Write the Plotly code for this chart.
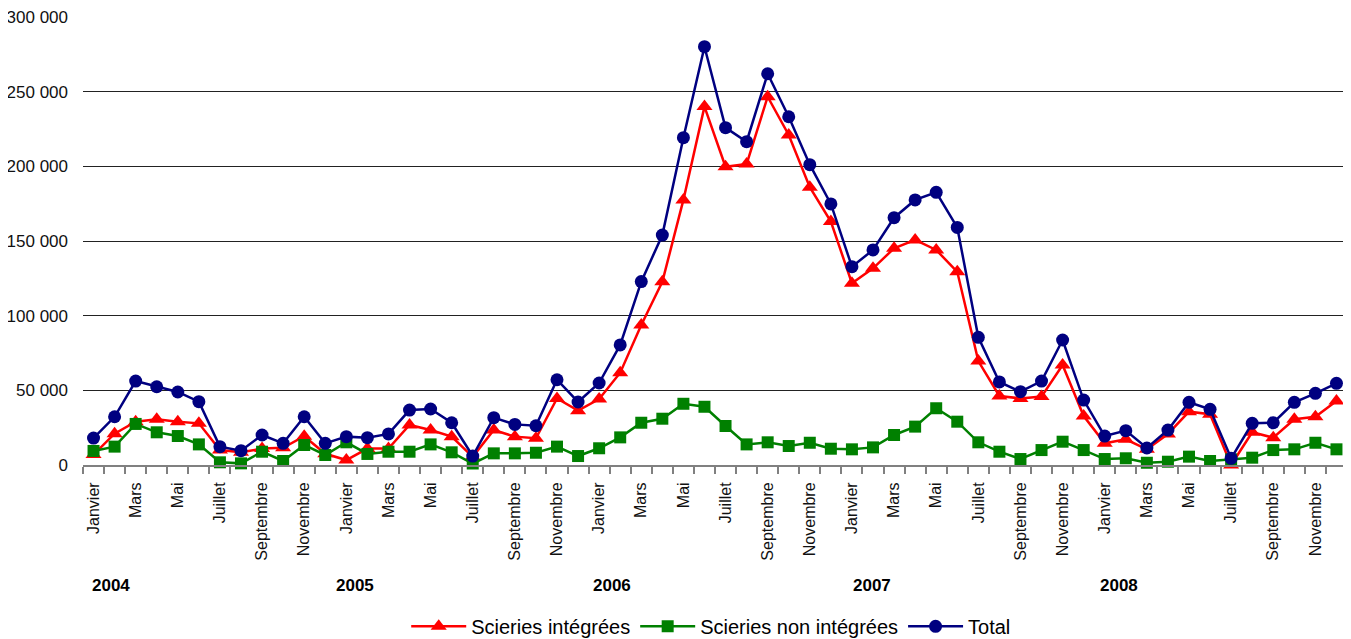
import plotly.graph_objects as go

months = ["Janvier", "Février", "Mars", "Avril", "Mai", "Juin", "Juillet",
          "Août", "Septembre", "Octobre", "Novembre", "Décembre"]
years = ["2004", "2005", "2006", "2007", "2008"]

integrees = [7000, 21000, 29000, 30600, 29000, 27900, 10000, 8500, 11000, 11500, 19300, 7500,
             3300, 11000, 11000, 26800, 23400, 19000, 5500, 23400, 19000, 17900, 44600, 36400,
             44200, 61800, 93700, 122700, 177500, 240000, 199700, 201500, 246600, 221000, 186000, 163000,
             121700, 131700, 145100, 150700, 144000, 129400, 69600, 46200, 44600, 45800, 67000, 32800,
             14500, 17200, 10500, 20800, 35700, 34000, 0, 21900, 18300, 30600, 32300, 42900]

non_integrees = [9400, 12300, 27500, 21900, 19400, 13800, 1800, 1100, 8900, 2700, 13400, 6700,
                 15200, 7400, 8900, 8900, 13800, 8500, 1000, 7800, 7800, 8200, 12300, 6000,
                 11200, 18500, 28300, 31000, 41000, 39000, 26100, 13800, 15200, 12700, 14900, 10900,
                 10500, 11800, 20100, 25700, 38000, 29000, 15200, 8900, 4000, 10000, 15600, 10000,
                 4000, 4500, 1500, 2200, 5600, 2700, 3800, 4900, 10000, 10500, 14900, 10500]

total = [18000, 32300, 56200, 52400, 48900, 42400, 12300, 9600, 20100, 14500, 32300, 14500,
         19000, 18300, 20800, 36800, 37500, 28300, 6000, 31700, 27200, 26300, 57100, 42200,
         54900, 80400, 122800, 154000, 219200, 280100, 225900, 216500, 262000, 233200, 201100, 174800,
         132800, 144000, 165600, 177500, 182600, 159100, 85500, 55600, 49100, 56200, 83700, 43500,
         19400, 23000, 11400, 23400, 42000, 37300, 4500, 27900, 28300, 42000, 48000, 54700]

y_ticks = [0, 50000, 100000, 150000, 200000, 250000, 300000]

n = len(total)
x = list(range(n))
tickvals = [i for i in x if i % 2 == 0]
ticktext = [months[i % 12] for i in tickvals]
year_pos = [0.85, 12.43, 24.6, 36.95, 48.67]

FONT = "Liberation Sans, Arial, sans-serif"

fig = go.Figure()
fig.add_trace(go.Scatter(
    x=x, y=integrees, name="Scieries intégrées", mode="lines+markers",
    line=dict(color="#FF0000", width=2.5),
    marker=dict(symbol="triangle-up", size=14, color="#FF0000"),
    cliponaxis=False))
fig.add_trace(go.Scatter(
    x=x, y=non_integrees, name="Scieries non intégrées", mode="lines+markers",
    line=dict(color="#008000", width=2.5),
    marker=dict(symbol="square", size=12, color="#008000"),
    cliponaxis=False))
fig.add_trace(go.Scatter(
    x=x, y=total, name="Total", mode="lines+markers",
    line=dict(color="#000080", width=2.5),
    marker=dict(symbol="circle", size=13, color="#000080"),
    cliponaxis=False))

for yr, xp in zip(years, year_pos):
    fig.add_annotation(x=xp, y=-0.268, xref="x", yref="paper", text="<b>" + yr + "</b>",
                       showarrow=False, xanchor="center", yanchor="middle",
                       font=dict(family=FONT, size=17, color="#000000"))

fig.update_layout(
    width=1343, height=631,
    margin=dict(l=74.5, r=3.5, t=9, b=174, autoexpand=False),
    paper_bgcolor="white", plot_bgcolor="white",
    font=dict(family=FONT, color="#111111"),
    showlegend=True,
    legend=dict(orientation="h", x=0.497, xanchor="center", y=-0.36, yanchor="middle",
                font=dict(family=FONT, size=20, color="#000000"),
                itemwidth=55, traceorder="normal"),
    xaxis=dict(range=[-0.5, n - 0.5], tickmode="array", tickvals=tickvals, ticktext=ticktext,
               tickangle=-90, ticks="", showgrid=False, zeroline=False, automargin=False,
               showline=True, linecolor="#808080", linewidth=2, ticklabelstandoff=9,
               tickfont=dict(family=FONT, size=16, color="#111111"),
               minor=dict(tick0=-0.5, dtick=1, ticks="outside", ticklen=7,
                          tickcolor="#808080", tickwidth=1.5, showgrid=False)),
    yaxis=dict(range=[0, 300000], tickmode="array", tickvals=y_ticks,
               ticktext=[f"{v:,}".replace(",", " ") for v in y_ticks],
               showgrid=True, gridcolor="#222222", gridwidth=1, automargin=False,
               zeroline=False, showline=False, ticks="", ticklabeloverflow="allow",
               ticklabelstandoff=14,
               tickfont=dict(family=FONT, size=17, color="#111111")),
)

fig.write_html("out.html")
